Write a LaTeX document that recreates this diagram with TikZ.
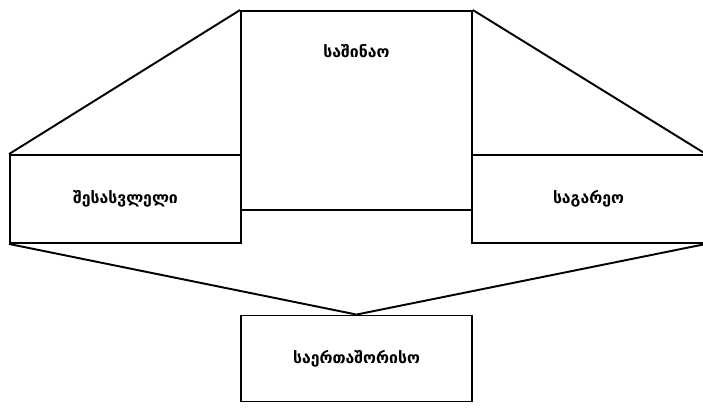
\documentclass[tikz,border=0pt]{standalone}
\usepackage{fontspec}
\newfontfamily\geofont[Script=Georgian]{DejaVu Sans}
\usetikzlibrary{positioning}

\begin{document}
\begin{tikzpicture}[
  x=0.02cm,y=-0.02cm,
  edge/.style={line width=1.1pt,draw=black},
  area/.style={draw=black,line width=1.1pt,fill=white,inner sep=0pt,
    font=\geofont\bfseries\small,align=center}
]
\useasboundingbox (0,0) rectangle (703,407);
% boxes, pixel positions of the reference
\node[area,minimum width=4.62cm,minimum height=3.98cm,
  label={[anchor=center,yshift=-0.82cm,font=\geofont\bfseries\small]north:საშინაო}]
  (inner) at (356.5,110.5) {};
\node[area,minimum width=4.62cm,minimum height=1.76cm] (entry) at (125.5,199) {შესასვლელი};
\node[area,minimum width=4.66cm,minimum height=1.76cm] (outer) at (588.5,199) {საგარეო};
\node[area,minimum width=4.62cm,minimum height=1.72cm] (intl) at (356.5,358.5) {საერთაშორისო};
% funnel lines
\draw[edge] (inner.north west) -- (entry.north west);
\draw[edge] (inner.north east) -- (outer.north east);
\draw[edge] (entry.south west) -- (intl.north);
\draw[edge] (outer.south east) -- (intl.north);
\end{tikzpicture}
\end{document}
